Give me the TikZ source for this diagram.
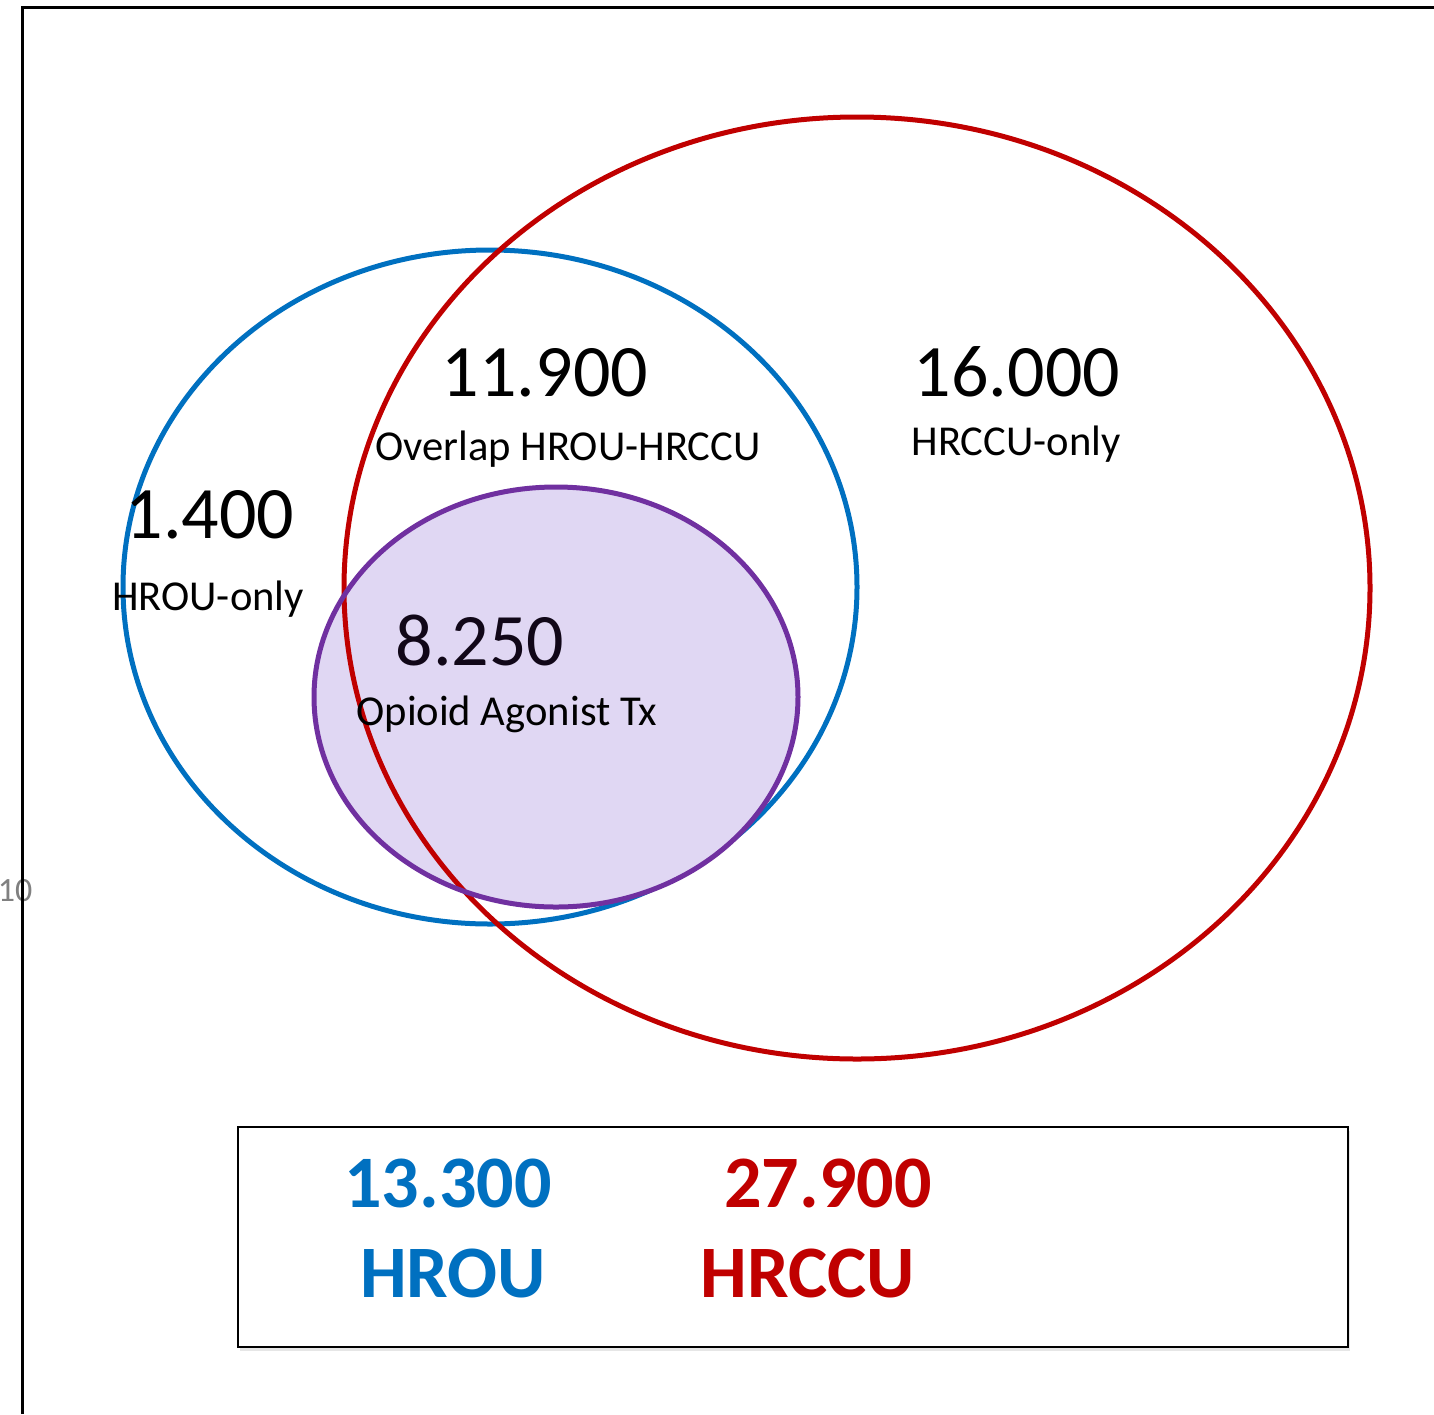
\documentclass[tikz,border=0pt]{standalone}
\usepackage{fontspec}
\setmainfont{Carlito}
\usetikzlibrary{
    shadows,
    positioning
}
\definecolor{hroublue}{HTML}{0070C0}
\definecolor{hrccured}{HTML}{C00000}
\definecolor{oatpurple}{HTML}{7030A0}
\definecolor{oatfill}{HTML}{E0D7F3}

\begin{document}
\begin{tikzpicture}[x=0.5pt, y=-0.5pt, ring/.style={
            % The border
            line width=2.5pt},
        bignum/.style={anchor=base, inner sep=0pt, font=\fontsize{37}{44}\selectfont},
        small/.style={anchor=base, inner sep=0pt, font=\fontsize{21.3}{25}\selectfont},
        legend/.style={anchor=base, inner sep=0pt, font=\bfseries\fontsize{37}{44}\selectfont}]
        \useasboundingbox (0,0) rectangle (1434,1414);

        % axis tick and frame
        \node [anchor=base, inner sep=0pt, text=gray, font=\fontsize{17}{20}\selectfont] (tick) at (15,901) {10};
        \draw [line width=1.5pt] (22.5,1414) -- (22.5,7) -- (1434,7);

        % the three sets
        \draw [ring, draw=hroublue] (490,587) ellipse [x radius=367, y radius=337];
        \fill [oatfill] (556,697) ellipse [x radius=242, y radius=210];
        \draw [ring, draw=hrccured] (857,588) ellipse [x radius=513, y radius=471];
        \draw [ring, draw=oatpurple] (556,697) ellipse [x radius=242, y radius=210];

        % counts
        \node [bignum] (overlapnum) at (545,396) {11.900};
        \node [small] (overlap) at (568,460) {Overlap HROU-HRCCU};
        \node [bignum] (hrccunum) at (1017,396) {16.000};
        \node [small] (hrccuonly) at (1016,455) {HRCCU-only};
        \node [bignum] (hrounum) at (210,538) {1.400};
        \node [small] (hrouonly) at (208,610) {HROU-only};
        \node [bignum, text=black!85!oatpurple] (oatnum) at (480,665) {8.250};
        \node [small] (oat) at (507,725) {Opioid Agonist Tx};

        % legend
        \draw [line width=1pt, fill=white, drop shadow={opacity=.2, shadow xshift=1pt, shadow yshift=-2pt}] (238,1127) rectangle (1348,1347);
        \node [legend, text=hroublue] (hroutotal) at (448,1207) {13.300};
        \node [legend, text=hrccured] (hrccutotal) at (828,1207) {27.900};
        \node [legend, text=hroublue] (hrou) at (453,1297) {HROU};
        \node [legend, text=hrccured] (hrccu) at (808,1297) {HRCCU};

\end{tikzpicture}
\end{document}
